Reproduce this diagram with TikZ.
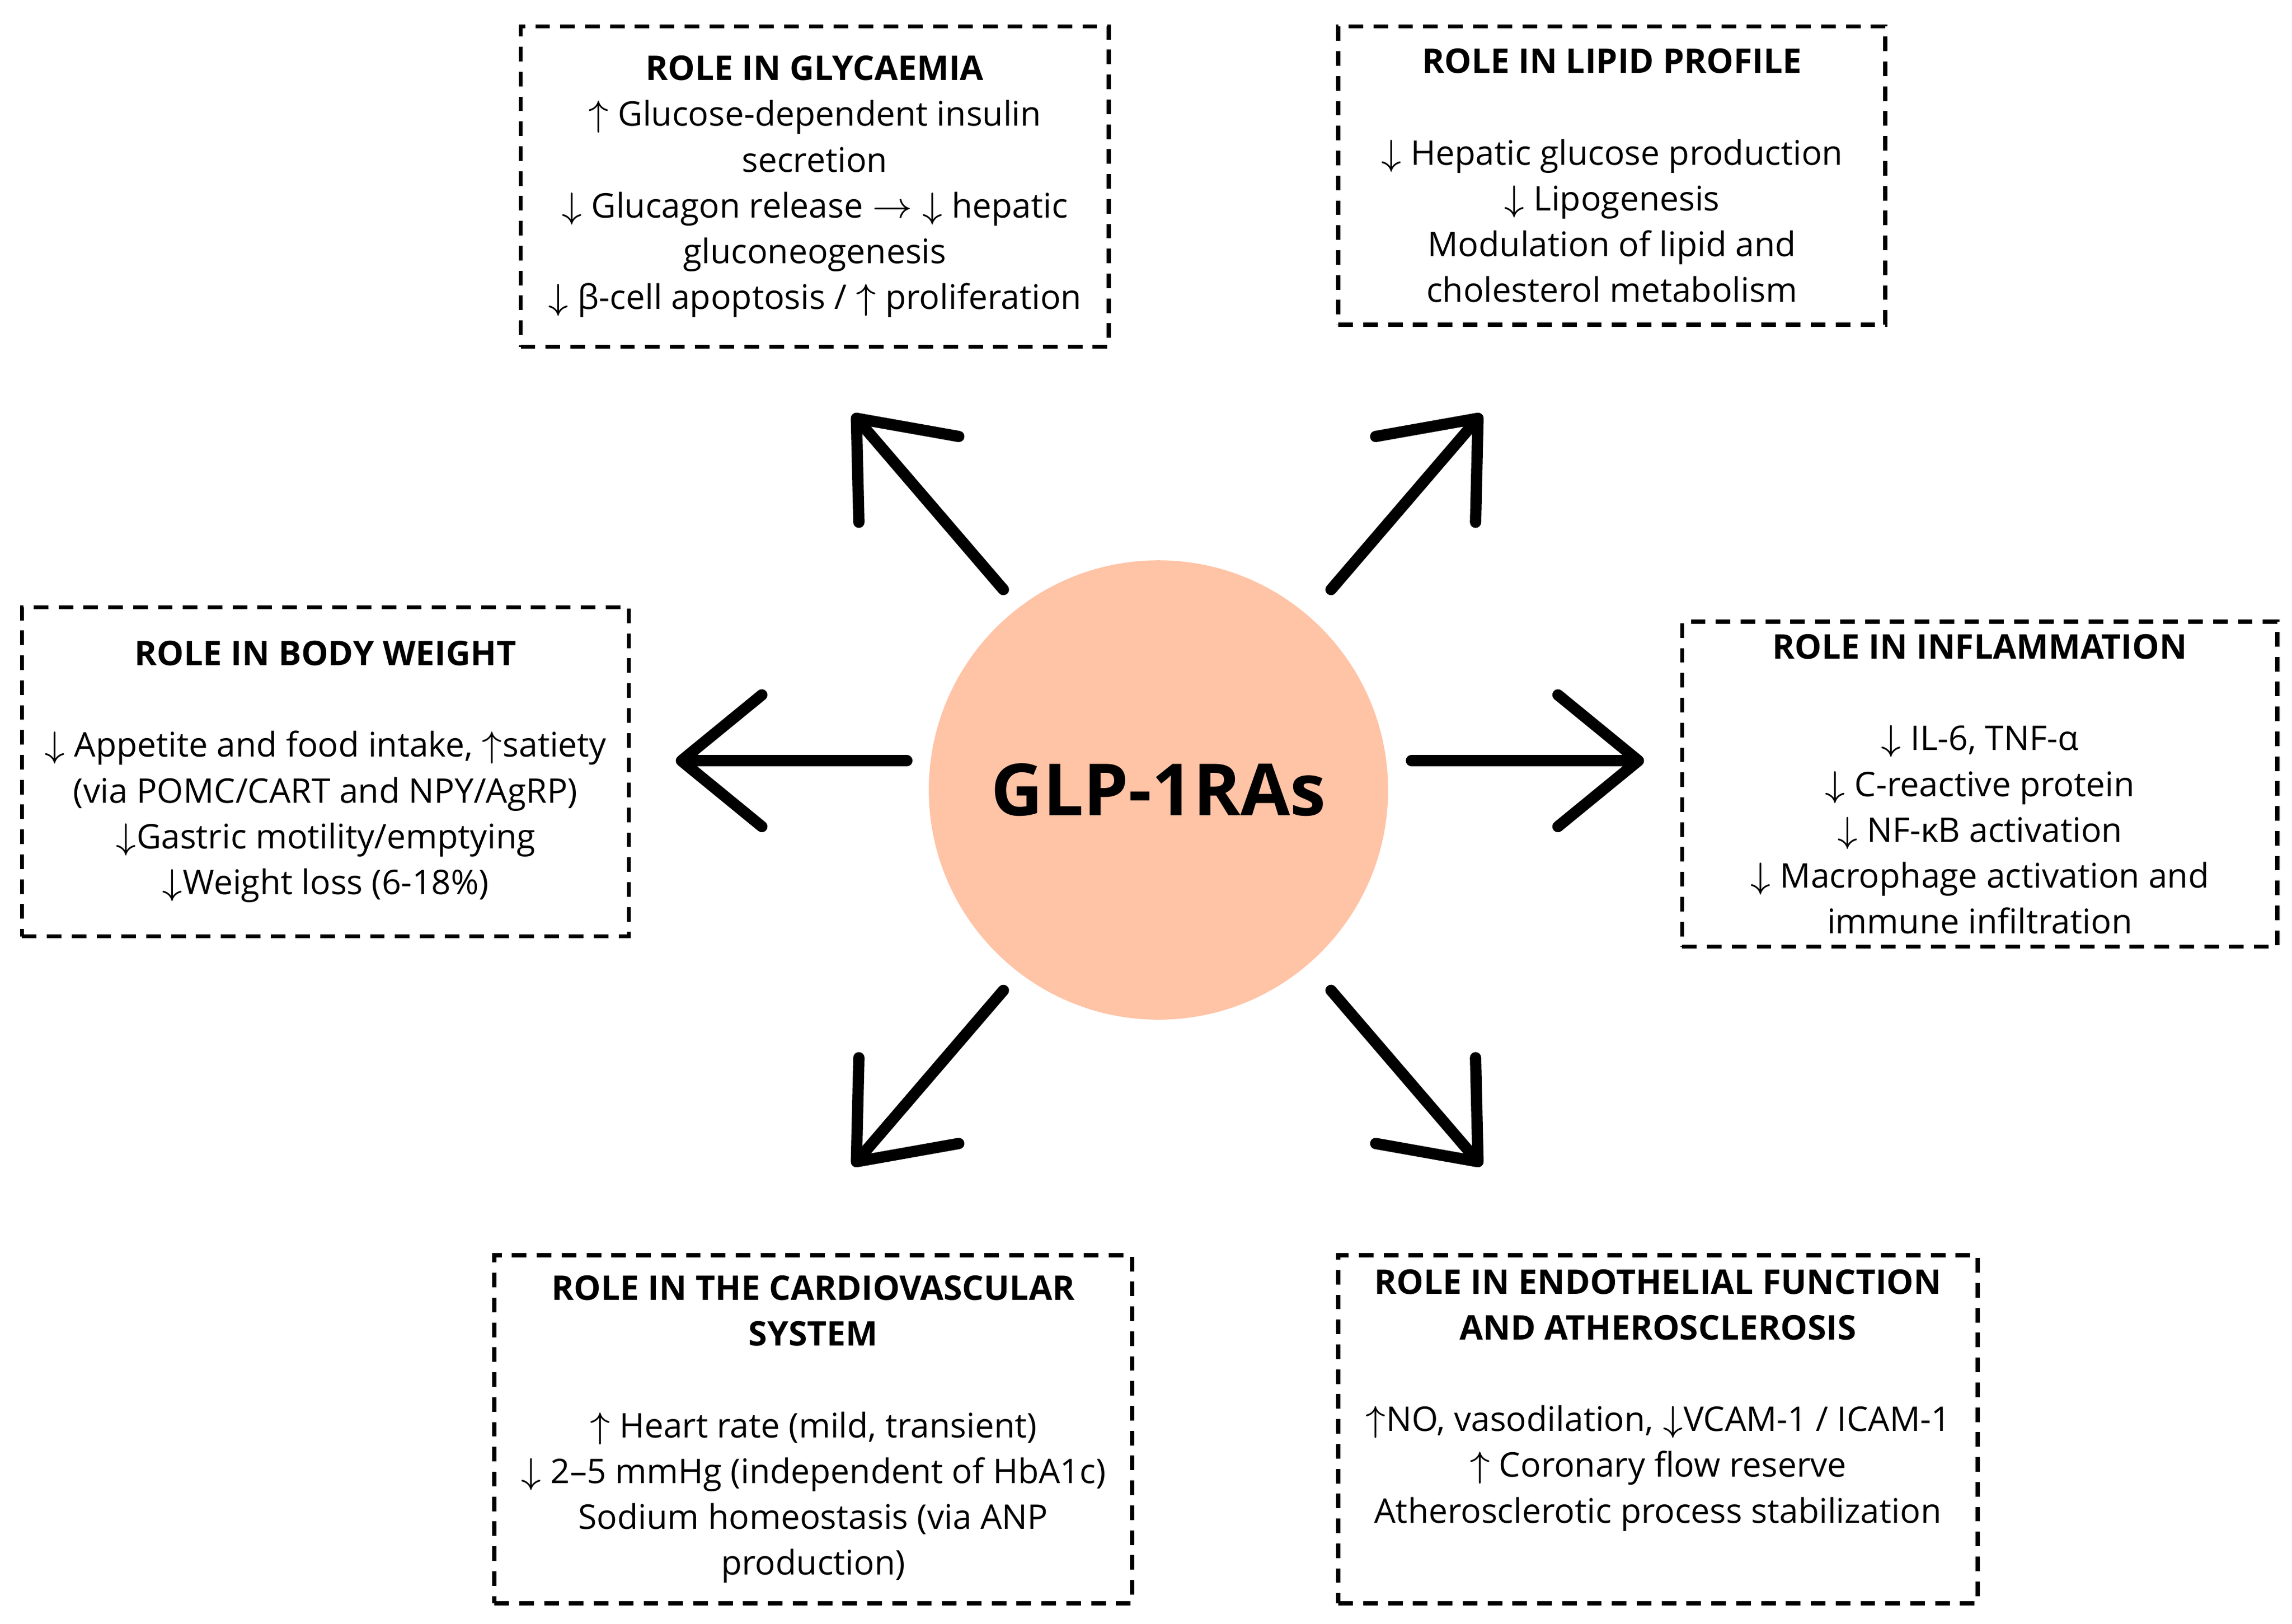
\documentclass[tikz,border=0pt]{standalone}
\usepackage{fontspec}
\setmainfont{Open Sans}
\usetikzlibrary{arrows.meta}
\definecolor{peach}{HTML}{FFC3A6}
\newcommand{\up}{$\uparrow$}
\newcommand{\dn}{$\downarrow$}
\tikzset{
  role/.style={draw, dashed, dash pattern=on 1mm off 0.7mm, line width=0.8pt,
    align=center, inner sep=0pt, font=\fontsize{6.6}{8.9}\selectfont},
  effect/.style={line width=2.2pt, line cap=round, line join=round,
    -{Straight Barb[length=5.5mm,width=9mm,line cap=round,line join=round]}},
}
\begin{document}
\begin{tikzpicture}
  \useasboundingbox (0,0) rectangle (15.67,11.10);
  % centre
  \node[circle, fill=peach, minimum size=3.14cm, font=\bfseries\fontsize{14}{16}\selectfont]
    (glp) at (7.92,5.70) {GLP-1RAs};
  % boxes
  \node[role, minimum width=4.02cm, minimum height=2.19cm] (glyc) at (5.57,9.825)
    {\textbf{ROLE IN GLYCAEMIA}\\ \up\ Glucose-dependent insulin\\ secretion\\
     \dn\ Glucagon release $\rightarrow$ \dn\ hepatic\\ gluconeogenesis\\
     \dn\ β-cell apoptosis / \up\ proliferation};
  \node[role, minimum width=3.74cm, minimum height=2.04cm] (lipid) at (11.02,9.90)
    {\textbf{ROLE IN LIPID PROFILE}\\[8.9pt] \dn\ Hepatic glucose production\\
     \dn\ Lipogenesis\\ Modulation of lipid and\\ cholesterol metabolism};
  \node[role, minimum width=4.15cm, minimum height=2.25cm] (weight) at (2.225,5.825)
    {\textbf{ROLE IN BODY WEIGHT}\\[8.9pt] \dn\ Appetite and food intake, \up satiety\\
     (via POMC/CART and NPY/AgRP)\\ \dn Gastric motility/emptying\\ \dn Weight loss (6-18\%)};
  \node[role, minimum width=4.07cm, minimum height=2.22cm] (inflam) at (13.535,5.74)
    {\textbf{ROLE IN INFLAMMATION}\\[8.9pt] \dn\ IL-6, TNF-α\\ \dn\ C-reactive protein\\
     \dn\ NF-κB activation\\ \dn\ Macrophage activation and\\ immune infiltration};
  \node[role, minimum width=4.36cm, minimum height=2.38cm] (cardio) at (5.56,1.33)
    {\textbf{ROLE IN THE CARDIOVASCULAR}\\ \textbf{SYSTEM}\\[8.9pt]
     \up\ Heart rate (mild, transient)\\ \dn\ 2–5 mmHg (independent of HbA1c)\\
     Sodium homeostasis (via ANP\\ production)};
  \node[role, minimum width=4.37cm, minimum height=2.38cm] (endo) at (11.335,1.33)
    {\textbf{ROLE IN ENDOTHELIAL FUNCTION}\\ \textbf{AND ATHEROSCLEROSIS}\\[8.9pt]
     \up NO, vasodilation, \dn VCAM-1 / ICAM-1\\ \up\ Coronary flow reserve\\
     Atherosclerotic process stabilization\\[4pt]};
  % arrow ends
  \coordinate (ul0) at (6.86,7.07); \coordinate (ul1) at (5.83,8.27);
  \coordinate (ur0) at (9.10,7.07); \coordinate (ur1) at (10.13,8.27);
  \coordinate (l0) at (6.20,5.90);  \coordinate (l1) at (4.62,5.90);
  \coordinate (r0) at (9.65,5.90);  \coordinate (r1) at (11.24,5.90);
  \coordinate (dl0) at (6.86,4.33); \coordinate (dl1) at (5.83,3.13);
  \coordinate (dr0) at (9.10,4.33); \coordinate (dr1) at (10.13,3.13);
  % arrows
  \foreach \a in {ul,ur,l,r,dl,dr}
    \draw[effect] (\a0) -- (\a1);
\end{tikzpicture}
\end{document}
